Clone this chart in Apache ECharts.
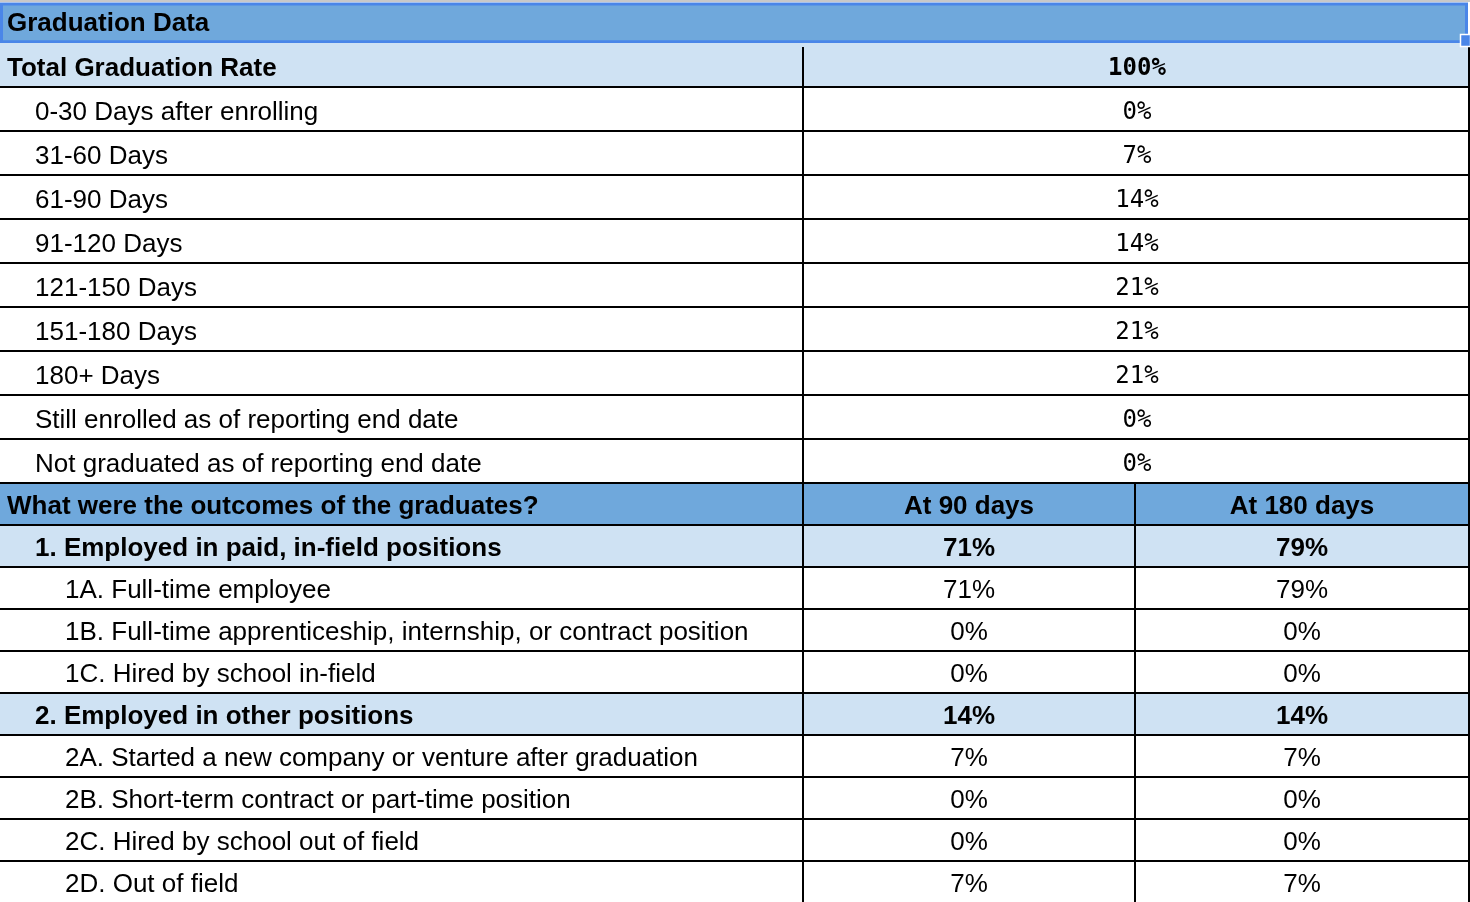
<!DOCTYPE html>
<html>
<head>
<meta charset="utf-8">
<style>
  html, body { margin: 0; padding: 0; background: #ffffff; }
  #chart { width: 1470px; height: 902px; }
</style>
<script src="https://cdn.jsdelivr.net/npm/echarts@6/dist/echarts.min.js"></script>
</head>
<body>
<div id="chart"></div>
<script>
// ---------------- data ----------------
const sectionTitle = 'Graduation Data';
const rateLabels = [
  'Total Graduation Rate',
  '0-30 Days after enrolling',
  '31-60 Days',
  '61-90 Days',
  '91-120 Days',
  '121-150 Days',
  '151-180 Days',
  '180+ Days',
  'Still enrolled as of reporting end date',
  'Not graduated as of reporting end date'
];
const rateValues = [100, 0, 7, 14, 14, 21, 21, 21, 0, 0];

const outcomeTitle = 'What were the outcomes of the graduates?';
const outcomeColumns = ['At 90 days', 'At 180 days'];
const outcomeLabels = [
  '1. Employed in paid, in-field positions',
  '1A. Full-time employee',
  '1B. Full-time apprenticeship, internship, or contract position',
  '1C. Hired by school in-field',
  '2. Employed in other positions',
  '2A. Started a new company or venture after graduation',
  '2B. Short-term contract or part-time position',
  '2C. Hired by school out of field',
  '2D. Out of field'
];
const at90Days  = [71, 71, 0, 0, 14, 7, 0, 0, 7];
const at180Days = [79, 79, 0, 0, 14, 7, 0, 0, 7];

// ---------------- layout / style ----------------
const W = 1470, H = 902;
const TITLE_H = 43, RATE_H = 44, OUT_H = 42;
const COL1 = 803, COL2 = 1135, RIGHT = 1469;
const DARK = '#6fa8dc', LIGHT = '#cfe2f3', SEL = '#4a86e8';
const SANS = '"Liberation Sans", Arial, sans-serif';
const MONO = '"DejaVu Sans Mono", monospace';

// build rows from data arrays
const rows = [];
rows.push({ kind: 'title', label: sectionTitle, h: TITLE_H });
rateLabels.forEach((lab, i) => {
  rows.push({ kind: 'rate', label: lab, value: rateValues[i], summary: i === 0, h: RATE_H });
});
rows.push({ kind: 'outHead', label: outcomeTitle, cols: outcomeColumns, h: OUT_H });
outcomeLabels.forEach((lab, i) => {
  const summary = /^\d\.\s/.test(lab);
  rows.push({ kind: 'out', label: lab, v1: at90Days[i], v2: at180Days[i], summary, h: OUT_H });
});
let acc = 0;
rows.forEach(r => { r.top = acc; acc += r.h; r.bottom = acc; });

function txt(x, y, text, opt) {
  return {
    type: 'text',
    style: Object.assign({
      x, y, text,
      fill: '#000000',
      fontSize: 26,
      fontFamily: SANS,
      fontWeight: 'normal',
      align: 'left', textAlign: 'left',
      verticalAlign: 'middle', textVerticalAlign: 'middle'
    }, opt || {}),
    z2: 10
  };
}

function renderItem(params, api) {
  const r = rows[api.value(0)];
  const tl = api.coord([0, r.top]);
  const br = api.coord([W, r.bottom]);
  const x = (v) => api.coord([v, 0])[0];
  const y = (v) => api.coord([0, v])[1];
  const cy = (tl[1] + br[1]) / 2 + 3.5;
  const ch = [];

  if (r.kind === 'title') {
    ch.push({ type: 'rect', shape: { x: 0, y: 0, width: W, height: 2 }, style: { fill: '#c8c8c8' } });
    ch.push({ type: 'rect', shape: { x: x(1.5), y: y(4), width: x(1466.5) - x(1.5), height: y(41.8) - y(4) },
              style: { fill: DARK, stroke: SEL, lineWidth: 3 } });
    ch.push(txt(x(7), y(24), r.label, { fontWeight: 'bold' }));
    ch.push({ type: 'rect', shape: { x: x(1460.5), y: y(34.5), width: 10, height: 12 },
              style: { fill: SEL, stroke: '#ffffff', lineWidth: 1.5 }, z2: 20 });
    return { type: 'group', children: ch };
  }

  let bg = '#ffffff';
  if (r.kind === 'outHead') bg = DARK;
  else if (r.summary) bg = LIGHT;
  ch.push({ type: 'rect', shape: { x: 0, y: tl[1], width: br[0] - tl[0], height: br[1] - tl[1] }, style: { fill: bg } });

  // horizontal bottom border
  ch.push({ type: 'line', shape: { x1: 0, y1: br[1], x2: x(RIGHT + 1), y2: br[1] },
            style: { stroke: '#000000', lineWidth: 2 }, z2: 5 });
  // vertical borders
  const vTop = r.kind === 'rate' && r.summary ? y(47) : tl[1];
  ch.push({ type: 'line', shape: { x1: x(COL1), y1: vTop, x2: x(COL1), y2: br[1] + 1 },
            style: { stroke: '#000000', lineWidth: 2 }, z2: 5 });
  ch.push({ type: 'line', shape: { x1: x(RIGHT), y1: vTop, x2: x(RIGHT), y2: br[1] + 1 },
            style: { stroke: '#000000', lineWidth: 2 }, z2: 5 });
  if (r.kind === 'outHead' || r.kind === 'out') {
    ch.push({ type: 'line', shape: { x1: x(COL2), y1: tl[1], x2: x(COL2), y2: br[1] + 1 },
              style: { stroke: '#000000', lineWidth: 2 }, z2: 5 });
  }

  if (r.kind === 'rate') {
    const indent = r.summary ? 7 : 35;
    ch.push(txt(x(indent), cy, r.label, { fontWeight: r.summary ? 'bold' : 'normal' }));
    ch.push(txt((x(COL1) + x(RIGHT)) / 2 + 1, cy, r.value + '%',
      { fontFamily: MONO, fontSize: 24, fontWeight: r.summary ? 'bold' : 'normal', align: 'center', textAlign: 'center' }));
  } else if (r.kind === 'outHead') {
    ch.push(txt(x(7), cy - 1, r.label, { fontWeight: 'bold' }));
    ch.push(txt((x(COL1) + x(COL2)) / 2, cy - 1, r.cols[0], { fontWeight: 'bold', align: 'center', textAlign: 'center' }));
    ch.push(txt((x(COL2) + x(RIGHT)) / 2, cy - 1, r.cols[1], { fontWeight: 'bold', align: 'center', textAlign: 'center' }));
  } else {
    const indent = r.summary ? 35 : 65;
    const fw = r.summary ? 'bold' : 'normal';
    ch.push(txt(x(indent), cy - 1, r.label, { fontWeight: fw }));
    ch.push(txt((x(COL1) + x(COL2)) / 2, cy - 1, r.v1 + '%', { fontWeight: fw, align: 'center', textAlign: 'center' }));
    ch.push(txt((x(COL2) + x(RIGHT)) / 2, cy - 1, r.v2 + '%', { fontWeight: fw, align: 'center', textAlign: 'center' }));
  }
  return { type: 'group', children: ch };
}

const chart = echarts.init(document.getElementById('chart'), null, { renderer: 'canvas' });
chart.setOption({
  animation: false,
  backgroundColor: '#ffffff',
  grid: { left: 0, right: 0, top: 0, bottom: 0 },
  xAxis: { type: 'value', min: 0, max: W, show: false },
  yAxis: { type: 'value', min: 0, max: H, inverse: true, show: false },
  series: [{
    type: 'custom',
    coordinateSystem: 'cartesian2d',
    renderItem,
    clip: false,
    encode: { x: 1, y: 2 },
    data: rows.map((r, i) => [i, 0, r.top])
  }]
});
</script>
</body>
</html>
